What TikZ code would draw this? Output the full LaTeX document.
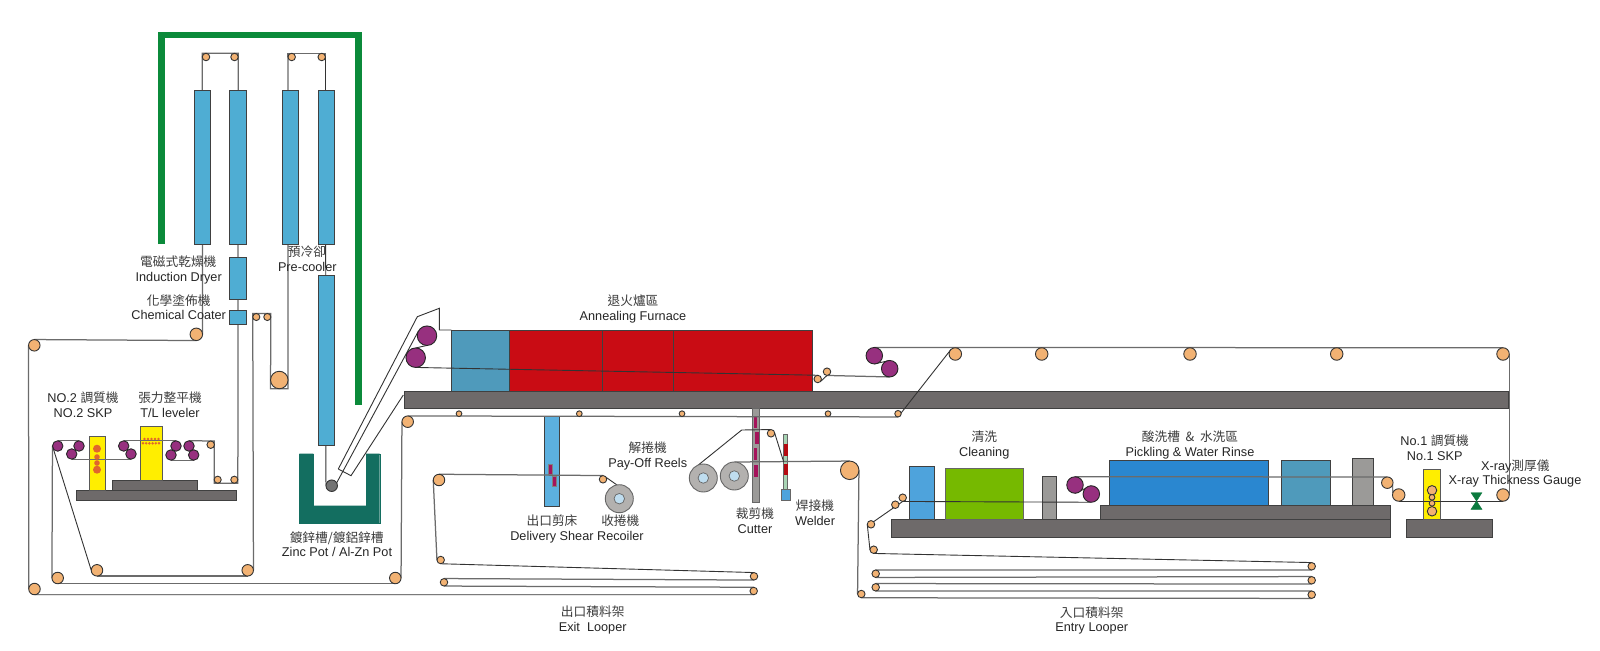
\documentclass[tikz,border=0pt]{standalone}
\usepackage{fontspec}
\setmainfont{Liberation Sans}
\newfontfamily\cjk{Noto Sans CJK TC}
\newcommand{\cj}[1]{{\cjk\color{cjkgrey}#1}}
\definecolor{cjkgrey}{HTML}{3C3C3C}
\definecolor{rollfill}{HTML}{F2B273}
\definecolor{purp}{HTML}{97307F}
\definecolor{towerblue}{HTML}{4FADD3}
\definecolor{leadblue}{HTML}{4F9ABB}
\definecolor{furnred}{HTML}{C90C14}
\definecolor{barg}{HTML}{6E6A6A}
\definecolor{frameg}{HTML}{0B8A3A}
\definecolor{potg}{HTML}{136E60}
\definecolor{yell}{HTML}{FFEE00}
\definecolor{orng}{HTML}{E0662C}
\definecolor{mag}{HTML}{A5135B}
\definecolor{coilg}{HTML}{B3B1AF}
\definecolor{coilc}{HTML}{BFDDEF}
\definecolor{lgrey}{HTML}{9B9A98}
\definecolor{pickb}{HTML}{2A87D0}
\definecolor{cleanb}{HTML}{4EA3DC}
\definecolor{cleang}{HTML}{76B900}
\definecolor{weldg}{HTML}{A8D4B4}
\definecolor{shearb}{HTML}{5CB0DF}
\definecolor{gaugeg}{HTML}{0B7A3E}
\pgfdeclarelayer{under}\pgfdeclarelayer{bg}\pgfdeclarelayer{stp}
\pgfsetlayers{under,bg,stp,main}
\tikzset{
 rol/.style={circle,draw=black!80,line width=.9bp,fill=rollfill,inner sep=0pt,outer sep=0pt,minimum size={#1*2bp+.5bp}},
 pur/.style={circle,draw=black!85,line width=.9bp,fill=purp,inner sep=0pt,outer sep=0pt,minimum size={#1*2bp+.5bp}},
 coil/.style={circle,draw=black!60,line width=.9bp,fill=coilg,inner sep=0pt,outer sep=0pt,minimum size=28bp},
 coilin/.style={circle,draw=black!60,line width=.7bp,fill=coilc,inner sep=0pt,outer sep=0pt,minimum size=10.5bp},
 dot/.style={circle,fill=orng,inner sep=0pt,outer sep=0pt,minimum size={#1*2bp}},
 rb/.style={draw=black!75,line width=.9bp},
 sg/.style={draw=black!58,line width=1.25bp,line join=miter},
 st/.style={draw=black!80,line width=.9bp,line join=miter},
 lab/.style={inner sep=0pt,text height=9.5bp,text depth=2.6bp,yshift=-1bp,font=\fontsize{12.7bp}{14bp}\selectfont,text=black!85},
}
\begin{document}
\begin{tikzpicture}[x=1bp,y=-1bp]
\useasboundingbox (0,0) rectangle (1600,651);
\begin{pgfonlayer}{under}
\fill[white] (0,0) rectangle (1600,651);
\end{pgfonlayer}

% ---------- rollers
\node[rol=3.5] (tr1) at (206,57) {};
\node[rol=3.5] (tr2) at (234.5,57) {};
\node[rol=3.5] (tr3) at (291.7,57) {};
\node[rol=3.5] (tr4) at (321.7,57) {};
\node[rol=6]   (tp)  at (196.3,334.3) {};
\node[rol=5.5] (l1)  at (34.3,345.3) {};
\node[rol=5.5] (l2)  at (34.5,589) {};
\node[rol=3.3] (u1)  at (256.3,317) {};
\node[rol=3.3] (u2)  at (267.3,317) {};
\node[rol=8.5] (bg1) at (279.3,380) {};
\node[rol=3.3] (b1)  at (217.7,479.7) {};
\node[rol=3.3] (b2)  at (234.3,479.7) {};
\node[rol=3.5] (c1)  at (210.7,444.7) {};
\node[rol=5.5] (q1)  at (57.7,578) {};
\node[rol=5.5] (q2)  at (395.3,578) {};
\node[rol=5.5] (q3)  at (407.7,421.7) {};
\node[rol=5.5] (m1)  at (97,570.3) {};
\node[rol=5.5] (m2)  at (247.7,570.3) {};
\node[rol=2.6] (n1)  at (459,413.7) {};
\node[rol=2.6] (n2)  at (579.3,413.7) {};
\node[rol=2.6] (n3)  at (682,413.7) {};
\node[rol=2.6] (n4)  at (828,413.7) {};
\node[rol=3]   (n5)  at (898,413.7) {};
\node[rol=6]   (e1)  at (955.3,354) {};
\node[rol=6]   (e2)  at (1041.7,354) {};
\node[rol=6]   (e3)  at (1190,354) {};
\node[rol=6]   (e4)  at (1336.7,354) {};
\node[rol=6]   (e5)  at (1503,354) {};
\node[rol=6]   (e6)  at (1503,495) {};
\node[rol=6]   (g1)  at (1398.7,495) {};
\node[rol=5.5] (g2)  at (1387.3,482.7) {};
\node[rol=3.5] (f1)  at (817.7,379) {};
\node[rol=3.5] (f2)  at (827,371.7) {};
\node[rol=3.5] (x1)  at (753.7,591) {};
\node[rol=3.5] (x2)  at (444,582.3) {};
\node[rol=3.5] (x3)  at (754,576.3) {};
\node[rol=3.5] (x4)  at (440.7,560) {};
\node[rol=5.5] (x5)  at (439,480) {};
\node[rol=3.5] (x6)  at (603,479.3) {};
\node[rol=3.5] (wr)  at (771,433.3) {};
\node[rol=9]   (bg2) at (849.7,470.3) {};
\node[rol=3.5] (h1)  at (902.7,497.7) {};
\node[rol=3.5] (h2)  at (895.3,504.7) {};
\node[rol=3.5] (h3)  at (871,524.3) {};
\node[rol=3.5] (h4)  at (873.7,549.7) {};
\node[rol=3.5] (y1)  at (1311.7,566.3) {};
\node[rol=3.5] (y2)  at (875.7,573.7) {};
\node[rol=3.5] (y3)  at (1311.7,580.3) {};
\node[rol=3.5] (y4)  at (875.7,587.3) {};
\node[rol=3.5] (y5)  at (1311.7,594.7) {};
\node[rol=3.5] (y6)  at (861.3,594) {};
\node[circle,draw=black!80,line width=.9bp,fill=black!55,inner sep=0pt,outer sep=0pt,minimum size=11.5bp] (pr) at (331.7,485.7) {};
% purple
\node[pur=5] (p1) at (57.7,446) {};
\node[pur=5] (p2) at (71.7,454) {};
\node[pur=5] (p3) at (79,446) {};
\node[pur=5] (p4) at (123.7,446) {};
\node[pur=5] (p5) at (131,454) {};
\node[pur=5] (p6) at (176,446) {};
\node[pur=5] (p7) at (171,455) {};
\node[pur=5] (p8) at (189,446) {};
\node[pur=5] (p9) at (193.7,455) {};
\node[pur=9.5] (fp1) at (427,335.7) {};
\node[pur=9.5] (fp2) at (415.7,357.7) {};
\node[pur=8] (fp3) at (874.3,355.7) {};
\node[pur=8] (fp4) at (889.7,368.7) {};
\node[pur=8] (fp5) at (1075,485) {};
\node[pur=8] (fp6) at (1091.3,494) {};
% coils
\node[coil] (rc) at (619.3,498.7) {}; \node[coilin] at (rc) {};
\node[coil] (c1a) at (703.3,478) {}; \node[coilin] at (c1a) {};
\node[coil] (c2a) at (734.3,476) {}; \node[coilin] at (c2a) {};
% SKP dots
\node[dot=4] at (97,448.7) {};
\node[dot=2.8] at (97,457) {};
\node[dot=2.8] at (97,463) {};
\node[dot=4] at (97,469.7) {};
\foreach \xx in {144.5,148,151.5,155,158.5} {\node[dot=1.35] at (\xx,439) {};}
\foreach \xx in {143,146.2,149.4,152.6,155.8,159} {\node[dot=1.35] at (\xx,443.3) {};}
\node[rol=4.5] at (1432,490.3) {};
\node[rol=2.6] at (1432,497.3) {};
\node[rol=2.6] at (1432,503.3) {};
\node[rol=4.5] at (1432,511.3) {};

% ---------- strip under the tower boxes
\begin{pgfonlayer}{under}
\draw[sg] (tr1.west) -- (tr1.west |- tr1.north) -- (tr2.east |- tr2.north) -- (tr2.east)
          -- (b2.east) -- (b2.east |- b2.south) -- (b1.west |- b1.south) -- (b1.west |- c1.north) -- (c1.north);
\draw[sg] (tr1.west) -- (tp.east);
\draw[sg] (tr3.west) -- (tr3.west |- tr3.north) -- (tr4.east |- tr4.north) -- (tr4.east);
\draw[sg] (tr3.west) -- (bg1.east);
\draw[st] (tr4.east) -- (pr.west);
\end{pgfonlayer}

% ---------- equipment boxes
\begin{pgfonlayer}{bg}
\draw[frameg,line width=6.5bp] (161.5,244) -- (161.5,35.2) -- (358.7,35.2) -- (358.7,405);
% tower
\path[rb,fill=towerblue] (194.3,90.3) rectangle (210.3,244);
\path[rb,fill=towerblue] (229.7,90.3) rectangle (246,244);
\path[rb,fill=towerblue] (282.6,90.3) rectangle (298.6,244);
\path[rb,fill=towerblue] (318,90.3) rectangle (334,244);
\path[rb,fill=towerblue] (229.7,257.7) rectangle (246,299.3);
\path[rb,fill=towerblue] (229.7,310) rectangle (246,324);
\path[rb,fill=towerblue] (318,275) rectangle (334,445);
% pot
\path[draw=potg,fill=potg] (299.3,453.7) -- (313.3,453.7) -- (313.3,505.7) -- (366,505.7) -- (366,453.7) -- (379.7,453.7) -- (379.7,523) -- (299.3,523) -- cycle;
% main bar
\path[draw=black!75,line width=.9bp,fill=barg] (404,391) rectangle (1508.7,408.3);
% furnace
\path[draw=black!75,line width=.8bp,fill=leadblue] (451.3,330) rectangle (509.3,391);
\path[draw=black!75,line width=.8bp,fill=furnred] (509.3,330) rectangle (812,391);
\draw[black!75,line width=.8bp] (602.7,330) -- (602.7,391) (673.3,330) -- (673.3,391);
% No.2 SKP
\path[rb,fill=barg] (76,490.7) rectangle (236.7,500.7);
\path[rb,fill=barg] (112.3,480.3) rectangle (197.7,490.7);
\path[draw=black!65,line width=.9bp,fill=yell] (89.3,436.3) rectangle (105.7,490.7);
\path[draw=black!65,line width=.9bp,fill=yell] (140,426.3) rectangle (162,480.3);
% shear
\path[rb,fill=shearb] (544.3,416.3) rectangle (559.7,506);
\path[draw=black!50,line width=.5bp,fill=mag] (548,464) rectangle (552,474.7);
\path[draw=black!50,line width=.5bp,fill=mag] (552,476) rectangle (556,486.7);
% cutter
\path[draw=black!60,line width=.9bp,fill=lgrey] (752.3,408.3) rectangle (759.3,502.7);
\path[fill=mag] (753.6,416.7) rectangle (757.4,427.7);
\path[fill=mag] (754.7,432.3) rectangle (758.5,444);
\path[fill=mag] (753.6,448.3) rectangle (757.4,460);
\path[fill=mag] (754.2,465) rectangle (758,476.7);
% welder
\path[draw=black!60,line width=.7bp,fill=weldg] (783.7,434.7) rectangle (787.7,490);
\path[fill=furnred!90!black] (783.9,444.3) rectangle (787.5,455.7);
\path[fill=furnred!90!black] (783.9,464) rectangle (787.5,475);
\path[draw=black!60,line width=.7bp,fill=cleanb] (781.7,489.3) rectangle (790.3,500);
% cleaning / pickling
\path[draw=black!75,line width=.9bp,fill=barg] (891,519.3) rectangle (1390,537);
\path[draw=black!75,line width=.9bp,fill=barg] (1100.3,505.7) rectangle (1390,519.3);
\path[rb,fill=cleanb] (909,466.7) rectangle (934,519.3);
\path[draw=black!60,line width=.9bp,fill=cleang] (945,468) rectangle (1023,519.3);
\path[rb,fill=lgrey] (1042,476) rectangle (1056.7,519.3);
\path[rb,fill=pickb] (1109,460.7) rectangle (1268.3,505.7);
\path[rb,fill=leadblue] (1281,460.7) rectangle (1330.7,505.7);
\path[rb,fill=lgrey] (1352.7,458.3) rectangle (1373,505.7);
% No.1 SKP
\path[draw=black!75,line width=.9bp,fill=barg] (1406,519.3) rectangle (1492,537);
\path[draw=black!65,line width=.9bp,fill=yell] (1423.7,469.3) rectangle (1440.3,519.3);
\end{pgfonlayer}

% ---------- strip
\begin{pgfonlayer}{stp}
% outer return
\draw[sg] (tp.south) -- (l1.north);
\draw[sg] (l1.west) -- (l2.west);
\draw[st] (l2.south) -- (x1.south);
\draw[sg] (x1.north) -- (x2.south);
\draw[sg] (x2.north) -- (x3.south);
\draw[st] (x3.north) -- (x4.south);
\draw[sg] (x4.west) -- (x5.west);
\draw[sg] (x5.north) -- (x6.north);
\draw[st] (x6.30) -- (rc.100);
% tower loop
\draw[sg] (bg1.east) -- (bg1.east |- bg1.south) -- (bg1.west |- bg1.south) -- (bg1.west) -- (u2.east);
\draw[sg] (u2.east) -- (u2.east |- u2.north) -- (u1.west |- u1.north) -- (u1.west) -- (m2.east);
\draw[sg] (m2.south) -- (m1.south);
\draw[st] (m1.west) -- (p1.west);
% levelers
\draw[sg] (c1.north) -- (p8.north);
\draw[sg] (p9.south) -- (p7.south);
\draw[sg] (p6.north) -- (p4.north);
\draw[sg] (p5.south) -- (p2.south);
\draw[sg] (p3.north) -- (p1.north);
\draw[sg] (p1.west) -- (q1.west);
\draw[sg] (q1.south) -- (q2.south);
\draw[sg] (q2.east) -- (q3.west);
\draw[sg] (q3.north) -- (n5.south);
\draw[st] (n5.south) -- (e1.north west);
% snorkel
\draw[st] (338.3,469) -- (351,475.7) -- (403.3,395);
\draw[st] (338.3,469) -- (417.3,316.7) -- (439.3,308.3) -- (439.3,330) -- (451.3,330);
\draw[st] (pr.30) -- (fp1.150);
\draw[st] (fp1.south) -- (fp2.north);
% furnace strip
\draw[st] (fp2.south) -- (f1.north);
\draw[st] (f1.south east) -- (f2.south);
\draw[sg] (f2.south) -- (fp4.south);
\draw[st] (fp4.north) -- (fp3.south);
\draw[sg] (fp3.north) -- (e5.north);
\draw[sg] (e5.east) -- (e6.east);
\draw[st] (e6.south) -- (g1.south);
\draw[st] (g1.160) -- (g2.-20);
\draw[sg] (g2.north) -- (fp5.north);
\draw[st] (fp5.south) -- (fp6.north);
\draw[st] (fp6.south) -- (h1.south);
\draw[st] (h1.south) -- (h3.north east);
\draw[st] (h3.west) -- (h4.west);
\draw[st] (h4.south) -- (y1.north);
\draw[sg] (y1.south) -- (y2.north);
\draw[sg] (y2.south) -- (y3.north);
\draw[sg] (y3.south) -- (y4.north);
\draw[sg] (y4.south) -- (y5.north);
\draw[sg] (y5.south) -- (y6.south);
\draw[sg] (y6.west) -- (bg2.east);
\draw[sg] (bg2.north) -- (c2a.north);
\draw[st] (c1a.110) -- (741.7,430) -- (wr.north);
\draw[st] (wr.east) -- (783.7,462);
\end{pgfonlayer}

% gauge
\path[draw=gaugeg,fill=gaugeg] (1471,492.7) -- (1482,492.7) -- (1471,509.3) -- (1482,509.3) -- cycle;

% ---------- labels
\node[lab] (t1a) at (178.3,261.7) {\cj{電磁式乾燥機}};
\node[lab] (t1b) at (178.7,276.7) {Induction Dryer};
\node[lab] (t2a) at (178.7,300.7) {\cj{化學塗佈機}};
\node[lab] (t2b) at (178.7,315) {Chemical Coater};
\node[lab] (t3a) at (307,252) {\cj{預冷卻}};
\node[lab] (t3b) at (307.3,267) {Pre-cooler};
\node[lab] (t4a) at (83,397.7) {NO.2 \cj{調質機}};
\node[lab] (t4b) at (83,412.7) {NO.2 SKP};
\node[lab] (t5a) at (170,397.7) {\cj{張力整平機}};
\node[lab] (t5b) at (170,412.7) {T/L leveler};
\node[lab] (t6a) at (336.7,538) {\cj{鍍鋅槽/鍍鋁鋅槽}};
\node[lab] (t6b) at (337,552.3) {Zinc Pot / Al-Zn Pot};
\node[lab] (t7a) at (633,300.7) {\cj{退火爐區}};
\node[lab] (t7b) at (633,315.7) {Annealing Furnace};
\node[lab] (t8a) at (647.7,448) {\cj{解捲機}};
\node[lab] (t8b) at (647.7,462.7) {Pay-Off Reels};
\node[lab] (t9a) at (552,521) {\cj{出口剪床}};
\node[lab] (t9c) at (620.3,521) {\cj{收捲機}};
\node[lab] (t9b) at (577,535.7) {Delivery Shear Recoiler};
\node[lab] (t10a) at (755,514.3) {\cj{裁剪機}};
\node[lab] (t10b) at (755,529) {Cutter};
\node[lab] (t11a) at (815,506) {\cj{焊接機}};
\node[lab] (t11b) at (815,520.7) {Welder};
\node[lab] (t12a) at (592.7,612.3) {\cj{出口積料架}};
\node[lab] (t12b) at (592.7,627) {Exit\ \ Looper};
\node[lab] (t13a) at (984.3,437.3) {\cj{清洗}};
\node[lab] (t13b) at (984.3,452.3) {Cleaning};
\node[lab] (t14a) at (1190,437.3) {\cj{酸洗槽\ \ \&\ \ 水洗區}};
\node[lab] (t14b) at (1190,452.3) {Pickling \& Water Rinse};
\node[lab] (t15a) at (1434.7,441) {No.1 \cj{調質機}};
\node[lab] (t15b) at (1434.7,456) {No.1 SKP};
\node[lab] (t16a) at (1515.3,466) {X-ray\cj{測厚儀}};
\node[lab] (t16b) at (1515,480.3) {X-ray Thickness Gauge};
\node[lab] (t17a) at (1091.7,612.7) {\cj{入口積料架}};
\node[lab] (t17b) at (1091.7,627) {Entry Looper};
\end{tikzpicture}
\end{document}
